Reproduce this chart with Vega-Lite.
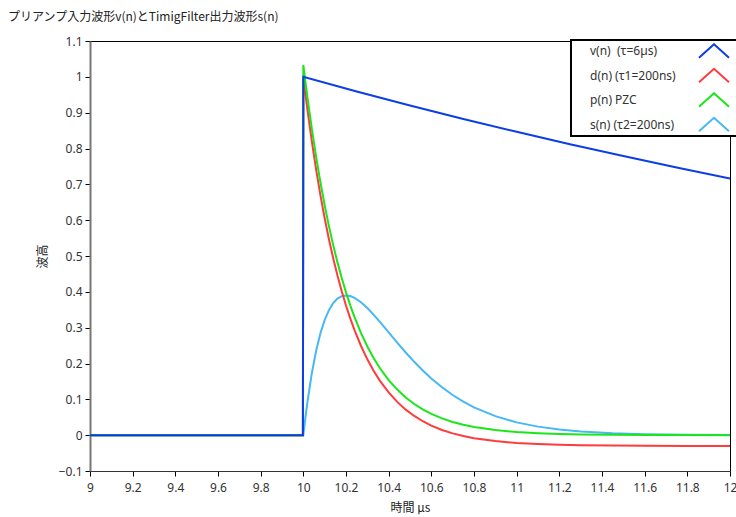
{
  "$schema": "https://vega.github.io/schema/vega-lite/v6.json",
  "width": 640,
  "height": 430,
  "autosize": {"type": "none"},
  "padding": {"left": 90, "top": 41, "right": 6, "bottom": 46},
  "background": "#ffffff",
  "title": {
    "text": "プリアンプ入力波形v(n)とTimigFilter出力波形s(n)",
    "anchor": "start",
    "frame": "group",
    "dx": -82,
    "offset": 11,
    "font": "Noto Sans CJK JP",
    "fontSize": 12,
    "fontWeight": "normal",
    "color": "#222222"
  },
  "data": {
    "values": [
      {"t": 9, "y": 0, "k": "s"}, {"t": 9.998, "y": 0, "k": "s"}, {"t": 10, "y": 0, "k": "s"},
      {"t": 10.01, "y": 0.0504, "k": "s"}, {"t": 10.02, "y": 0.0959, "k": "s"}, {"t": 10.04, "y": 0.1736, "k": "s"},
      {"t": 10.06, "y": 0.2356, "k": "s"}, {"t": 10.08, "y": 0.2842, "k": "s"}, {"t": 10.1, "y": 0.3214, "k": "s"},
      {"t": 10.12, "y": 0.349, "k": "s"}, {"t": 10.14, "y": 0.3685, "k": "s"}, {"t": 10.16, "y": 0.381, "k": "s"},
      {"t": 10.18, "y": 0.3879, "k": "s"}, {"t": 10.2, "y": 0.39, "k": "s"}, {"t": 10.22, "y": 0.3882, "k": "s"},
      {"t": 10.24, "y": 0.3831, "k": "s"}, {"t": 10.27, "y": 0.3709, "k": "s"}, {"t": 10.3, "y": 0.3548, "k": "s"},
      {"t": 10.33, "y": 0.3358, "k": "s"}, {"t": 10.36, "y": 0.3154, "k": "s"}, {"t": 10.4, "y": 0.2869, "k": "s"},
      {"t": 10.44, "y": 0.2584, "k": "s"}, {"t": 10.48, "y": 0.2308, "k": "s"}, {"t": 10.52, "y": 0.2047, "k": "s"},
      {"t": 10.56, "y": 0.1805, "k": "s"}, {"t": 10.6, "y": 0.1584, "k": "s"}, {"t": 10.65, "y": 0.1336, "k": "s"},
      {"t": 10.7, "y": 0.112, "k": "s"}, {"t": 10.75, "y": 0.0935, "k": "s"}, {"t": 10.8, "y": 0.0777, "k": "s"},
      {"t": 10.9, "y": 0.053, "k": "s"}, {"t": 11, "y": 0.0357, "k": "s"}, {"t": 11.1, "y": 0.0238, "k": "s"},
      {"t": 11.2, "y": 0.0158, "k": "s"}, {"t": 11.3, "y": 0.0104, "k": "s"}, {"t": 11.45, "y": 0.0055, "k": "s"},
      {"t": 11.6, "y": 0.0028, "k": "s"}, {"t": 11.8, "y": 0.0012, "k": "s"}, {"t": 12, "y": 0.0005, "k": "s"},

      {"t": 9, "y": 0, "k": "d"}, {"t": 9.998, "y": 0, "k": "d"}, {"t": 10, "y": 1.0, "k": "d"},
      {"t": 10.01, "y": 0.9514, "k": "d"}, {"t": 10.02, "y": 0.9052, "k": "d"}, {"t": 10.04, "y": 0.819, "k": "d"},
      {"t": 10.06, "y": 0.7409, "k": "d"}, {"t": 10.08, "y": 0.6699, "k": "d"}, {"t": 10.1, "y": 0.6054, "k": "d"},
      {"t": 10.12, "y": 0.5469, "k": "d"}, {"t": 10.14, "y": 0.4938, "k": "d"}, {"t": 10.16, "y": 0.4455, "k": "d"},
      {"t": 10.18, "y": 0.4016, "k": "d"}, {"t": 10.2, "y": 0.362, "k": "d"}, {"t": 10.22, "y": 0.3259, "k": "d"},
      {"t": 10.24, "y": 0.2932, "k": "d"}, {"t": 10.27, "y": 0.2496, "k": "d"}, {"t": 10.3, "y": 0.2117, "k": "d"},
      {"t": 10.33, "y": 0.1792, "k": "d"}, {"t": 10.36, "y": 0.151, "k": "d"}, {"t": 10.4, "y": 0.1192, "k": "d"},
      {"t": 10.44, "y": 0.0928, "k": "d"}, {"t": 10.48, "y": 0.0713, "k": "d"}, {"t": 10.52, "y": 0.0536, "k": "d"},
      {"t": 10.56, "y": 0.0389, "k": "d"}, {"t": 10.6, "y": 0.0267, "k": "d"}, {"t": 10.65, "y": 0.0146, "k": "d"},
      {"t": 10.7, "y": 0.005, "k": "d"}, {"t": 10.75, "y": -0.0025, "k": "d"}, {"t": 10.8, "y": -0.0084, "k": "d"},
      {"t": 10.9, "y": -0.0166, "k": "d"}, {"t": 11, "y": -0.0218, "k": "d"}, {"t": 11.1, "y": -0.0249, "k": "d"},
      {"t": 11.2, "y": -0.0269, "k": "d"}, {"t": 11.3, "y": -0.0281, "k": "d"}, {"t": 11.45, "y": -0.0291, "k": "d"},
      {"t": 11.6, "y": -0.0296, "k": "d"}, {"t": 11.8, "y": -0.0299, "k": "d"}, {"t": 12, "y": -0.03, "k": "d"},

      {"t": 9, "y": 0, "k": "p"}, {"t": 9.998, "y": 0, "k": "p"}, {"t": 10, "y": 1.033, "k": "p"},
      {"t": 10.01, "y": 0.985, "k": "p"}, {"t": 10.02, "y": 0.9392, "k": "p"}, {"t": 10.04, "y": 0.8538, "k": "p"},
      {"t": 10.06, "y": 0.7763, "k": "p"}, {"t": 10.08, "y": 0.7057, "k": "p"}, {"t": 10.1, "y": 0.6417, "k": "p"},
      {"t": 10.12, "y": 0.5833, "k": "p"}, {"t": 10.14, "y": 0.5303, "k": "p"}, {"t": 10.16, "y": 0.4822, "k": "p"},
      {"t": 10.18, "y": 0.4384, "k": "p"}, {"t": 10.2, "y": 0.3985, "k": "p"}, {"t": 10.22, "y": 0.3624, "k": "p"},
      {"t": 10.24, "y": 0.3294, "k": "p"}, {"t": 10.27, "y": 0.2856, "k": "p"}, {"t": 10.3, "y": 0.2476, "k": "p"},
      {"t": 10.33, "y": 0.2147, "k": "p"}, {"t": 10.36, "y": 0.186, "k": "p"}, {"t": 10.4, "y": 0.1538, "k": "p"},
      {"t": 10.44, "y": 0.1272, "k": "p"}, {"t": 10.48, "y": 0.1051, "k": "p"}, {"t": 10.52, "y": 0.0869, "k": "p"},
      {"t": 10.56, "y": 0.0718, "k": "p"}, {"t": 10.6, "y": 0.0593, "k": "p"}, {"t": 10.65, "y": 0.0468, "k": "p"},
      {"t": 10.7, "y": 0.0369, "k": "p"}, {"t": 10.75, "y": 0.029, "k": "p"}, {"t": 10.8, "y": 0.0229, "k": "p"},
      {"t": 10.9, "y": 0.0142, "k": "p"}, {"t": 11, "y": 0.0088, "k": "p"}, {"t": 11.1, "y": 0.0055, "k": "p"},
      {"t": 11.2, "y": 0.0034, "k": "p"}, {"t": 11.3, "y": 0.0021, "k": "p"}, {"t": 11.45, "y": 0.001, "k": "p"},
      {"t": 11.6, "y": 0.0005, "k": "p"}, {"t": 11.8, "y": 0.0002, "k": "p"}, {"t": 12, "y": 0.0001, "k": "p"},

      {"t": 9, "y": 0, "k": "v"}, {"t": 9.998, "y": 0, "k": "v"}, {"t": 10, "y": 1.0, "k": "v"},
      {"t": 10.25, "y": 0.9592, "k": "v"}, {"t": 10.5, "y": 0.92, "k": "v"}, {"t": 10.75, "y": 0.8825, "k": "v"},
      {"t": 11, "y": 0.8465, "k": "v"}, {"t": 11.25, "y": 0.8119, "k": "v"}, {"t": 11.5, "y": 0.7788, "k": "v"},
      {"t": 11.75, "y": 0.747, "k": "v"}, {"t": 12, "y": 0.7165, "k": "v"}
    ]
  },
  "mark": {"type": "line", "strokeWidth": 2, "clip": true, "interpolate": "linear"},
  "encoding": {
    "x": {
      "field": "t",
      "type": "quantitative",
      "scale": {"domain": [9, 12], "nice": false, "zero": false},
      "axis": {
        "title": "時間 µs",
        "values": [9, 9.2, 9.4, 9.6, 9.8, 10, 10.2, 10.4, 10.6, 10.8, 11, 11.2, 11.4, 11.6, 11.8, 12],
        "format": ".1~f",
        "labelFlush": false,
        "labelPadding": 6,
        "domainColor": "#333333",
        "titlePadding": 9
      }
    },
    "y": {
      "field": "y",
      "type": "quantitative",
      "scale": {"domain": [-0.1, 1.1], "nice": false, "zero": false},
      "axis": {
        "title": "波高",
        "values": [-0.1, 0, 0.1, 0.2, 0.3, 0.4, 0.5, 0.6, 0.7, 0.8, 0.9, 1, 1.1],
        "format": ".1~f",
        "labelFlush": false,
        "domainColor": "#777777",
        "domainWidth": 2,
        "titlePadding": 9
      }
    },
    "color": {
      "field": "k",
      "type": "nominal",
      "scale": {"domain": ["v", "d", "p", "s"], "range": ["#0b3ee6", "#ff3b3b", "#1ae61a", "#45b8f5"]},
      "legend": {
        "orient": "none",
        "legendX": 481,
        "legendY": -1,
        "title": null,
        "labelExpr": "(datum.label == 'v' ? 'v(n) \u00a0(τ=6µs)' : datum.label == 'd' ? 'd(n) (τ1=200ns)' : datum.label == 'p' ? 'p(n) PZC' : 's(n) (τ2=200ns)') + '⠀⠀⠀⠀⠀⠀⠀⠀⠀⠀⠀⠀⠀⠀⠀⠀⠀⠀⠀⠀⠀⠀⠀⠀⠀⠀⠀⠀⠀⠀'",
        "symbolType": "M-1,0.45L0,-0.45L1,0.45",
        "symbolSize": 900,
        "symbolStrokeWidth": 2,
        "clipHeight": 16,
        "rowPadding": 8.5,
        "padding": 3,
        "labelOffset": -140,
        "symbolOffset": 124,
        "labelLimit": 600,
        "labelFont": "Noto Sans",
        "labelFontSize": 12,
        "labelColor": "#333333",
        "fillColor": "#ffffff",
        "strokeColor": "#000000"
      }
    }
  },
  "config": {
    "view": {"stroke": "#000000", "strokeWidth": 1},
    "legend": {"strokeWidth": 2},
    "axis": {
      "grid": false,
      "labelFont": "Noto Sans",
      "labelFontSize": 12,
      "labelColor": "#333333",
      "labelPadding": 3,
      "tickColor": "#000000",
      "tickSize": 5,
      "titleFont": "Noto Sans CJK JP",
      "titleFontSize": 12,
      "titleFontWeight": "normal",
      "titleColor": "#222222"
    }
  }
}
